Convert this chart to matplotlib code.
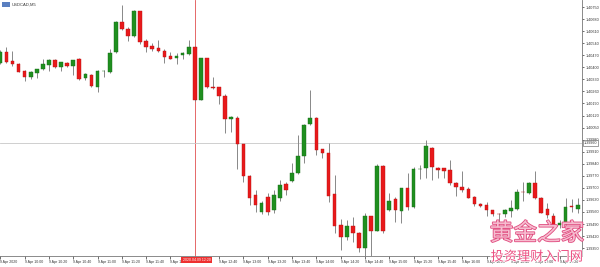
import matplotlib
matplotlib.use('Agg')
import matplotlib.pyplot as plt
import matplotlib.patheffects as pe
import numpy as np

plt.rcParams['font.family'] = ['Liberation Sans', 'Noto Sans CJK SC']

symbol = 'USDCAD,M5'

opens = [1.40426, 1.40487, 1.40436, 1.40419, 1.40380, 1.40342, 1.40368, 1.40388, 1.40413, 1.40442,
         1.40400, 1.40426, 1.40407, 1.40448, 1.40336, 1.40357, 1.40283, 1.40376, 1.40374, 1.40487,
         1.40665, 1.40622, 1.40581, 1.40727, 1.40551, 1.40522, 1.40510, 1.40496, 1.40463, 1.40452,
         1.40473, 1.40477, 1.40519, 1.40210, 1.40452, 1.40284, 1.40283, 1.40233, 1.40099, 1.40107,
         1.39952, 1.39768, 1.39658, 1.39559, 1.39646, 1.39571, 1.39640, 1.39722, 1.39739, 1.39786,
         1.39884, 1.40068, 1.40107, 1.39923, 1.39900, 1.39662, 1.39484, 1.39412, 1.39478, 1.39439,
         1.39348, 1.39536, 1.39451, 1.39828, 1.39571, 1.39633, 1.39567, 1.39697, 1.39590, 1.39807,
         1.39813, 1.39932, 1.39816, 1.39813, 1.39801, 1.39731, 1.39706, 1.39691, 1.39648, 1.39606,
         1.39600, 1.39571, 1.39549, 1.39548, 1.39567, 1.39576, 1.39678, 1.39668, 1.39729, 1.39639,
         1.39576, 1.39536, 1.39484, 1.39488, 1.39594, 1.39580]
highs = [1.40500, 1.40519, 1.40496, 1.40423, 1.40384, 1.40378, 1.40393, 1.40448, 1.40446, 1.40446,
         1.40433, 1.40432, 1.40442, 1.40452, 1.40368, 1.40361, 1.40382, 1.40384, 1.40506, 1.40669,
         1.40762, 1.40636, 1.40733, 1.40728, 1.40562, 1.40539, 1.40558, 1.40504, 1.40487, 1.40481,
         1.40490, 1.40558, 1.40523, 1.40456, 1.40456, 1.40342, 1.40287, 1.40243, 1.40117, 1.40117,
         1.39957, 1.39774, 1.39687, 1.39623, 1.39669, 1.39687, 1.39745, 1.39733, 1.39844, 1.40006,
         1.40070, 1.40268, 1.40111, 1.39928, 1.39958, 1.39774, 1.39522, 1.39513, 1.39528, 1.39443,
         1.39555, 1.39539, 1.39836, 1.39832, 1.39668, 1.39646, 1.39701, 1.39784, 1.39822, 1.39832,
         1.39977, 1.39937, 1.39822, 1.39815, 1.39861, 1.39733, 1.39799, 1.39706, 1.39652, 1.39610,
         1.39619, 1.39574, 1.39553, 1.39575, 1.39629, 1.39691, 1.39732, 1.39735, 1.39797, 1.39646,
         1.39611, 1.39553, 1.39513, 1.39640, 1.39635, 1.39640]
lows = [1.40422, 1.40426, 1.40409, 1.40371, 1.40320, 1.40332, 1.40339, 1.40382, 1.40380, 1.40397,
        1.40380, 1.40403, 1.40353, 1.40329, 1.40326, 1.40287, 1.40258, 1.40345, 1.40368, 1.40485,
        1.40617, 1.40554, 1.40577, 1.40535, 1.40490, 1.40496, 1.40490, 1.40423, 1.40446, 1.40417,
        1.40448, 1.40471, 1.40206, 1.40208, 1.40281, 1.40276, 1.40186, 1.40016, 1.40026, 1.39807,
        1.39733, 1.39600, 1.39559, 1.39547, 1.39542, 1.39553, 1.39623, 1.39658, 1.39733, 1.39780,
        1.39845, 1.40064, 1.39890, 1.39871, 1.39619, 1.39435, 1.39338, 1.39400, 1.39386, 1.39328,
        1.39299, 1.39299, 1.39449, 1.39439, 1.39568, 1.39503, 1.39497, 1.39571, 1.39585, 1.39749,
        1.39757, 1.39745, 1.39755, 1.39755, 1.39716, 1.39652, 1.39677, 1.39640, 1.39596, 1.39590,
        1.39536, 1.39536, 1.39493, 1.39528, 1.39528, 1.39571, 1.39623, 1.39662, 1.39635, 1.39552,
        1.39524, 1.39455, 1.39466, 1.39484, 1.39559, 1.39553]
closes = [1.40490, 1.40432, 1.40419, 1.40374, 1.40345, 1.40374, 1.40390, 1.40417, 1.40442, 1.40403,
          1.40431, 1.40405, 1.40440, 1.40332, 1.40363, 1.40291, 1.40380, 1.40379, 1.40481, 1.40665,
          1.40622, 1.40583, 1.40728, 1.40547, 1.40519, 1.40504, 1.40494, 1.40461, 1.40448, 1.40465,
          1.40483, 1.40516, 1.40210, 1.40452, 1.40287, 1.40279, 1.40233, 1.40099, 1.40113, 1.39954,
          1.39768, 1.39640, 1.39600, 1.39611, 1.39559, 1.39658, 1.39716, 1.39687, 1.39787, 1.39886,
          1.40064, 1.40107, 1.39919, 1.39900, 1.39654, 1.39479, 1.39416, 1.39478, 1.39439, 1.39348,
          1.39536, 1.39451, 1.39828, 1.39451, 1.39625, 1.39571, 1.39697, 1.39590, 1.39807, 1.39810,
          1.39944, 1.39819, 1.39803, 1.39799, 1.39729, 1.39706, 1.39687, 1.39644, 1.39606, 1.39596,
          1.39571, 1.39546, 1.39546, 1.39571, 1.39581, 1.39676, 1.39676, 1.39729, 1.39639, 1.39555,
          1.39541, 1.39484, 1.39497, 1.39590, 1.39589, 1.39600]

price_ticks = [1.39350, 1.39420, 1.39490, 1.39560, 1.39630, 1.39700, 1.39770, 1.39840, 1.39910,
               1.39980, 1.40050, 1.40120, 1.40190, 1.40260, 1.40330, 1.40400, 1.40470, 1.40540,
               1.40610, 1.40680, 1.40750]
# the 12:20 label sits under the crosshair time box
time_labels = ['9 Apr 2020', '9 Apr 10:00', '9 Apr 10:20', '9 Apr 10:40', '9 Apr 11:00',
               '9 Apr 11:20', '9 Apr 11:40', '9 Apr 12:00', '', '9 Apr 12:40',
               '9 Apr 13:00', '9 Apr 13:20', '9 Apr 13:40', '9 Apr 14:00', '9 Apr 14:20',
               '9 Apr 14:40', '9 Apr 15:00', '9 Apr 15:20', '9 Apr 15:40', '9 Apr 16:00',
               '9 Apr 16:20', '9 Apr 16:40', '9 Apr 17:00', '9 Apr 17:20']
cross_bar = 32
cross_price = 1.39960
cross_time = '2020.04.09 12:20'

green = '#1f8f1f'
red = '#e8191b'
wick = '#888888'

fig = plt.figure(figsize=(6, 2.67), dpi=100)
ax = fig.add_axes([0.0, 0.041, 0.97, 0.959])

o = np.array(opens)
h = np.array(highs)
l = np.array(lows)
c = np.array(closes)
x = np.arange(len(o))
up = c >= o

ax.vlines(x, l, h, color=wick, linewidth=0.7, zorder=2)
body = np.maximum(np.abs(c - o), 0.000012)
ax.bar(x[up], body[up], bottom=o[up], width=0.6, color=green,
       edgecolor='#156b15', linewidth=0.3, zorder=3)
ax.bar(x[~up], body[~up], bottom=c[~up], width=0.6, color=red,
       edgecolor='#b81010', linewidth=0.3, zorder=3)

# crosshair
ax.axvline(cross_bar, color='#e05050', linewidth=0.6, zorder=1)
ax.axhline(cross_price, color='#c8c8c8', linewidth=0.6, zorder=1)

ax.set_xlim(-0.05, 95.7)
ax.set_ylim(1.39304, 1.40791)

ax.yaxis.tick_right()
ax.set_yticks(price_ticks, [f'{p:.5f}' for p in price_ticks])
ax.set_xticks(np.arange(len(time_labels)) * 4, time_labels)
ax.tick_params(axis='y', labelsize=2.7, length=1.5, width=0.5, pad=1.0,
               colors='#333333', direction='out')
ax.tick_params(axis='x', labelsize=2.5, length=2, width=0.5, pad=1.0,
               colors='#333333', direction='out')
for lbl in ax.get_xticklabels():
    lbl.set_horizontalalignment('left')

for side in ['top', 'left']:
    ax.spines[side].set_visible(False)
for side in ['right', 'bottom']:
    ax.spines[side].set_color('#777777')
    ax.spines[side].set_linewidth(0.6)

# crosshair labels
ax.text(cross_bar + 0.3, -0.008, cross_time, transform=ax.get_xaxis_transform(),
        fontsize=2.5, color='white', ha='center', va='top', zorder=6,
        bbox=dict(boxstyle='square,pad=0.35', fc='#ee3030', ec='none'))
ax.text(1.003, cross_price, f'{cross_price:.5f}', transform=ax.get_yaxis_transform(),
        fontsize=2.7, color='#333333', ha='left', va='center', zorder=6,
        bbox=dict(boxstyle='square,pad=0.3', fc='white', ec='#555555', lw=0.4))

# symbol caption
fig.patches.append(plt.Rectangle((0.004, 0.975), 0.013, 0.018, transform=fig.transFigure,
                                 fc='#5a7fc0', ec='none'))
fig.text(0.02, 0.984, symbol, fontsize=3.0, color='#333333', va='center', ha='left')

# watermark
wm1 = fig.text(0.895, 0.125, '黄金之家', fontsize=17, color='#f6bdd0', ha='center', va='center',
               family=['Noto Sans CJK SC', 'DejaVu Sans'], zorder=10)
wm1.set_path_effects([pe.withStroke(linewidth=1.2, foreground='#e04a7e')])
wm2 = fig.text(0.895, 0.037, '投资理财入门网', fontsize=9.5, color='#ec4f82', ha='center', va='center',
               family=['Noto Sans CJK SC', 'DejaVu Sans'], zorder=10)
wm2.set_path_effects([pe.withStroke(linewidth=1.0, foreground='white')])

fig.savefig('out.png', dpi=100, facecolor='white')
